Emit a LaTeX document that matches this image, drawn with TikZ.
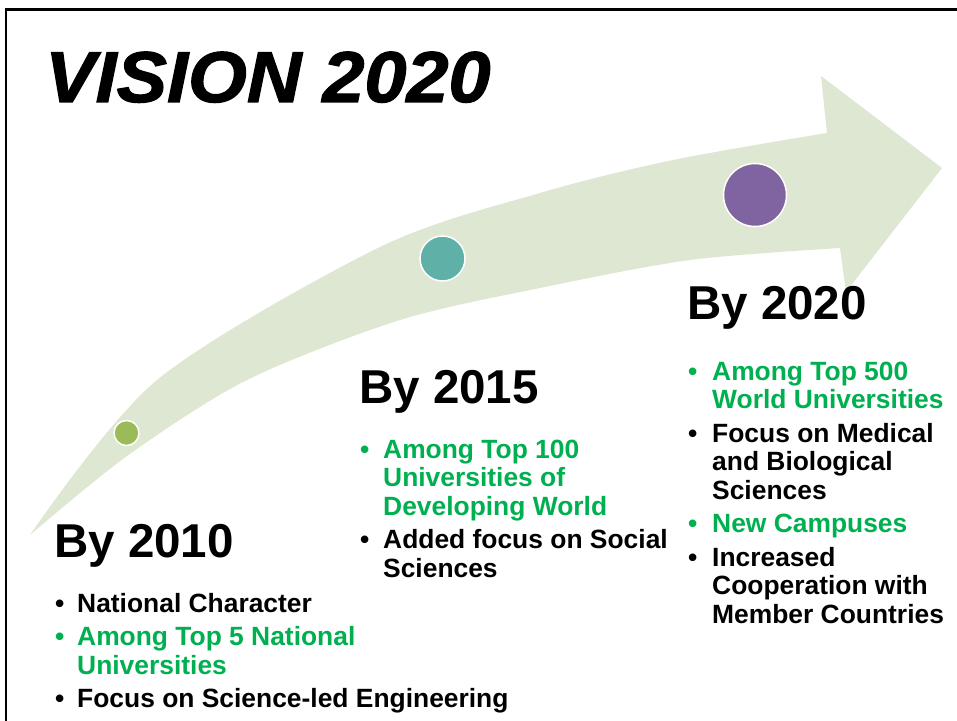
\documentclass[tikz,border=0pt]{standalone}
\usepackage{fontspec}
\setmainfont{Liberation Sans}
\newfontfamily\titlefamily[BoldItalicFeatures={FakeBold=1.6}]{Liberation Sans}
\usetikzlibrary{positioning}

\definecolor{arrowgreen}{HTML}{DEE7D1}
\definecolor{textgreen}{HTML}{00B050}
\definecolor{dotgreen}{HTML}{9BBB59}
\definecolor{dotteal}{HTML}{5FB0A6}
\definecolor{dotpurple}{HTML}{8064A2}

\newcommand{\yearfont}{\fontsize{47.5bp}{50bp}\selectfont\bfseries}
\newcommand{\listfont}{\fontsize{26.4bp}{28.5bp}\selectfont\bfseries}
\newcommand{\bul}[2]{\makebox[#2][l]{\textcolor{#1}{\textbullet}}}

\begin{document}
\begin{tikzpicture}[x=1bp, y=-1bp,
    year/.style={anchor=base west, inner sep=0pt, font=\yearfont},
    items/.style={anchor=base west, inner sep=0pt, font=\listfont},
    dot/.style={circle, draw=white, line width=1.5bp, inner sep=0pt}]

  \useasboundingbox (0,0) rectangle (957,721);

  % 1) Frame of the slide
  \draw[line width=2.5bp] (6,721) -- (6,9.5) -- (957,9.5);

  % 2) Title
  \node[anchor=base west, inner sep=0pt,
        font=\fontsize{72bp}{76bp}\selectfont\titlefamily\bfseries\itshape] (title) at (45,102)
        {\scalebox{1.05}[1]{VISION 2020}};

  % 3) The big curved arrow
  \fill[arrowgreen] plot[smooth] coordinates {(30,535) (157,380) (380,247) (540,193) (673,160) (827,133)}
    -- (821,76) -- (942,168) -- (846,292) -- (840,248)
    -- plot[smooth] coordinates {(840,248) (690,260) (540,288) (400,320) (247,380) (127,456) (30,535)}
    -- cycle;

  % 4) Milestones on the arrow
  \node[dot, fill=dotgreen,  minimum size=25bp] (dot2010) at (126.5,433) {};
  \node[dot, fill=dotteal,   minimum size=45bp] (dot2015) at (442.5,258.5) {};
  \node[dot, fill=dotpurple, minimum size=63bp] (dot2020) at (755,195) {};

  % 5) Years
  \node[year] (by2010) at (54,557) {By 2010};
  \node[year] (by2015) at (359,403) {By 2015};
  \node[year] (by2020) at (687,319) {By 2020};

  % 6) Goals under each year
  \node[items] (list2010) at (55,612) {\begin{tabular}[t]{@{}l@{}l@{}}
    \bul{black}{22bp} & National Character\\[5bp]
    \bul{textgreen}{22bp} & \textcolor{textgreen}{Among Top 5 National}\\
     & \textcolor{textgreen}{Universities}\\[5bp]
    \bul{black}{22bp} & Focus on Science-led Engineering
  \end{tabular}};

  \node[items] (list2015) at (360,458) {\begin{tabular}[t]{@{}l@{}l@{}}
    \bul{textgreen}{23bp} & \textcolor{textgreen}{Among Top 100}\\
     & \textcolor{textgreen}{Universities of}\\
     & \textcolor{textgreen}{Developing World}\\[5bp]
    \bul{black}{23bp} & Added focus on Social\\
     & Sciences
  \end{tabular}};

  \node[items] (list2020) at (688,380) {\begin{tabular}[t]{@{}l@{}l@{}}
    \bul{textgreen}{24bp} & \textcolor{textgreen}{Among Top 500}\\
     & \textcolor{textgreen}{World Universities}\\[5bp]
    \bul{black}{24bp} & Focus on Medical\\
     & and Biological\\
     & Sciences\\[5bp]
    \bul{textgreen}{24bp} & \textcolor{textgreen}{New Campuses}\\[5bp]
    \bul{black}{24bp} & Increased\\
     & Cooperation with\\
     & Member Countries
  \end{tabular}};

\end{tikzpicture}
\end{document}
